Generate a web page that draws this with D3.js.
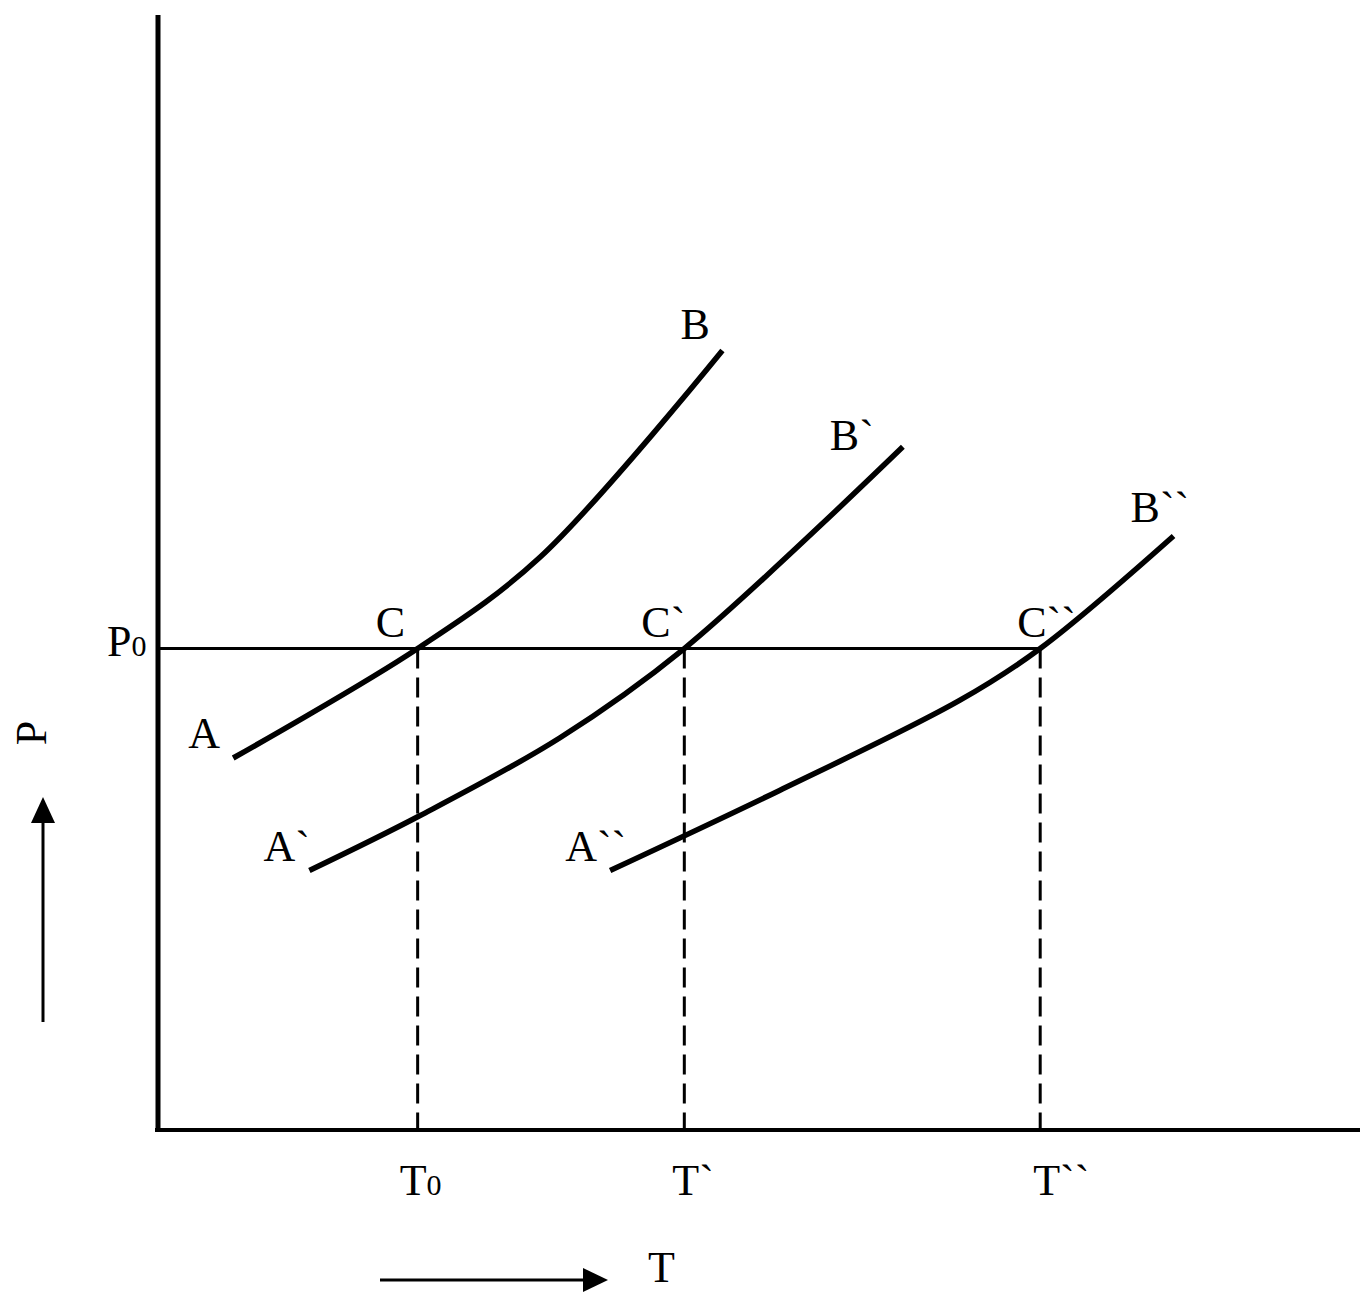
<!DOCTYPE html>
<html>
<head>
<meta charset="utf-8">
<script src="https://cdn.jsdelivr.net/npm/d3@7"></script>
<style>
  html, body { margin: 0; padding: 0; background: #fff; }
  svg { display: block; }
  text { font-family: "Liberation Serif", "Times New Roman", serif; fill: #000; }
</style>
</head>
<body>
<svg id="chart" width="1368" height="1305"></svg>
<script>
// ---- Data (arbitrary T / P units) ----
const curveNames = ["AB", "A`B`", "A``B``"];
const curveAB_T = [7.6, 26.0, 38.2, 56.4];
const curveAB_P = [36.7, 47.5, 56.5, 76.9];
const curveA1B1_T = [15.2, 26.2, 40.2, 52.6, 74.4];
const curveA1B1_P = [25.6, 31.0, 38.7, 47.5, 67.4];
const curveA2B2_T = [45.2, 62.1, 80.1, 88.1, 101.4];
const curveA2B2_P = [25.6, 33.5, 42.4, 47.5, 58.6];
const P0 = 47.5;
const crossT = [26.0, 52.6, 88.1];           // T0, T`, T``
const crossTLabels = ["T", "T`", "T``"];     // base letters (T0 gets subscript)
const endLabelsA = ["A", "A`", "A``"];
const endLabelsB = ["B", "B`", "B``"];
const crossLabelsC = ["C", "C`", "C``"];
const xMax = 120, yMax = 110;

// ---- Scales ----
const svg = d3.select("#chart");
const x = d3.scaleLinear().domain([0, xMax]).range([157, 1360]);
const y = d3.scaleLinear().domain([0, yMax]).range([1130, 15]);

const curves = [
  curveAB_T.map((t, i) => [t, curveAB_P[i]]),
  curveA1B1_T.map((t, i) => [t, curveA1B1_P[i]]),
  curveA2B2_T.map((t, i) => [t, curveA2B2_P[i]])
];

const line = d3.line().x(d => x(d[0])).y(d => y(d[1])).curve(d3.curveCatmullRom.alpha(0.5));

// ---- Axes ----
svg.append("line")
  .attr("x1", x(0) + 1).attr("x2", x(0) + 1)
  .attr("y1", y(0) + 2).attr("y2", y(yMax))
  .attr("stroke", "#000").attr("stroke-width", 5);
svg.append("line")
  .attr("x1", x(0) - 2).attr("x2", x(xMax))
  .attr("y1", y(0)).attr("y2", y(0))
  .attr("stroke", "#000").attr("stroke-width", 4);

// ---- P0 horizontal ----
svg.append("line")
  .attr("x1", x(0)).attr("x2", x(crossT[2]))
  .attr("y1", y(P0)).attr("y2", y(P0))
  .attr("stroke", "#000").attr("stroke-width", 3);

// ---- Dashed verticals ----
svg.selectAll("line.drop").data(crossT).enter().append("line")
  .attr("class", "drop")
  .attr("x1", d => x(d)).attr("x2", d => x(d))
  .attr("y1", y(P0)).attr("y2", y(0))
  .attr("stroke", "#000").attr("stroke-width", 3)
  .attr("stroke-dasharray", "20,9");

// ---- Curves ----
svg.selectAll("path.curve").data(curves).enter().append("path")
  .attr("class", "curve")
  .attr("d", line)
  .attr("fill", "none").attr("stroke", "#000").attr("stroke-width", 5.5);

// ---- Labels ----
const fs = 44;
function label(txt, px, py, anchor) {
  return svg.append("text").attr("x", px).attr("y", py)
    .attr("font-size", fs).attr("text-anchor", anchor || "start").text(txt);
}
const aOff = [[-45, -10], [-46, -10], [-45, -10]];
const bOff = [[-42, -12], [-73, 3], [-43, -14]];
curves.forEach((c, i) => {
  const s = c[0], e = c[c.length - 1];
  label(endLabelsA[i], x(s[0]) + aOff[i][0], y(s[1]) + aOff[i][1]);
  label(endLabelsB[i], x(e[0]) + bOff[i][0], y(e[1]) + bOff[i][1]);
});
const cOff = [-42, -43, -23];
crossT.forEach((t, i) => {
  label(crossLabelsC[i], x(t) + cOff[i], y(P0) - 12);
});

// P0 label
const p0 = svg.append("text").attr("x", x(0) - 50).attr("y", y(P0) + 7).attr("font-size", fs);
p0.append("tspan").text("P");
p0.append("tspan").attr("font-size", 30).text("0");

// T labels under axis
const tOff = [-18, -12, -7];
crossT.forEach((t, i) => {
  const tx = svg.append("text").attr("x", x(t) + tOff[i]).attr("y", y(0) + 65).attr("font-size", fs);
  tx.append("tspan").text(crossTLabels[i]);
  if (i === 0) tx.append("tspan").attr("font-size", 30).text("0");
});

// Axis titles
svg.append("text").attr("font-size", fs).attr("text-anchor", "middle")
  .attr("transform", "translate(46,733) rotate(-90)").text("P");
svg.append("text").attr("x", 648).attr("y", 1282).attr("font-size", fs).text("T");

// Arrows
svg.append("line").attr("x1", 43).attr("x2", 43).attr("y1", 1022).attr("y2", 820)
  .attr("stroke", "#000").attr("stroke-width", 3);
svg.append("path").attr("d", "M43,797 L31,823 L55,823 Z").attr("fill", "#000");
svg.append("line").attr("x1", 380).attr("x2", 590).attr("y1", 1280).attr("y2", 1280)
  .attr("stroke", "#000").attr("stroke-width", 3);
svg.append("path").attr("d", "M608,1280 L583,1268 L583,1292 Z").attr("fill", "#000");
</script>
</body>
</html>
